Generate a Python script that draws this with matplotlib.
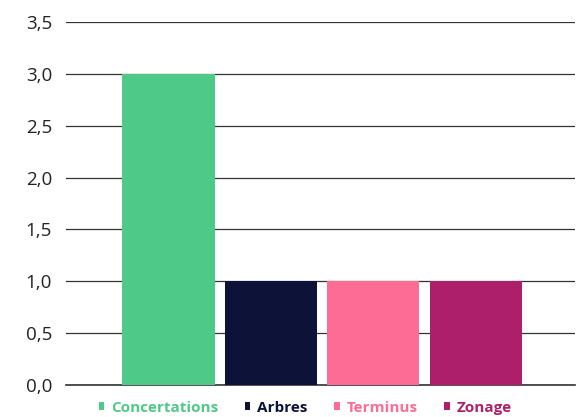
import matplotlib.pyplot as plt
from matplotlib.ticker import FuncFormatter

categories = ["Concertations", "Arbres", "Terminus", "Zonage"]
values = [3.0, 1.0, 1.0, 1.0]
colors = ["#4FC987", "#0C1238", "#FC6C94", "#AE1F6B"]
yticks = [0.0, 0.5, 1.0, 1.5, 2.0, 2.5, 3.0, 3.5]

plt.rcParams['font.family'] = ['Open Sans', 'DejaVu Sans']

fig = plt.figure(figsize=(5.82, 4.17), dpi=100)
ax = fig.add_axes([66 / 582, 1 - 385 / 417, 509 / 582, 363 / 417])

x = list(range(len(categories)))
bars = ax.bar(x, values, width=0.9, color=colors, zorder=3)

ax.set_xlim(-1.0, 3.97)
ax.set_ylim(0, 3.5)
ax.set_yticks(yticks)
ax.yaxis.set_major_formatter(FuncFormatter(lambda v, p: f"{v:.1f}".replace(".", ",")))
ax.set_xticks([])
ax.tick_params(axis='y', length=0, pad=10, labelsize=13.5, labelcolor="#222222")
ax.grid(axis='y', color="#333333", linewidth=0.9, zorder=0)
for s in ["top", "right", "left"]:
    ax.spines[s].set_visible(False)
ax.spines["bottom"].set_color("#333333")
ax.spines["bottom"].set_linewidth(1.2)

leg = ax.legend(bars, categories, loc="upper center", bbox_to_anchor=(0.47, -0.005),
                ncol=4, frameon=False, handlelength=0.35, handleheight=0.35,
                handletextpad=0.45, columnspacing=1.75, labelcolor=colors,
                prop={'weight': 'bold', 'size': 11})

fig.savefig("out.png", dpi=100)
